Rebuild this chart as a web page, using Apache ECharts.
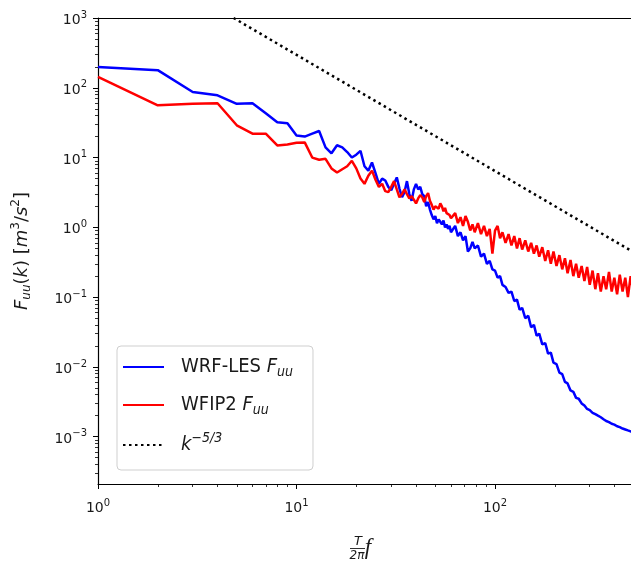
<!DOCTYPE html>
<html><head><meta charset="utf-8">
<script src="https://cdn.jsdelivr.net/npm/echarts@6/dist/echarts.min.js"></script>
<style>html,body{margin:0;padding:0;background:#fff}#c{width:631px;height:565px}</style>
</head><body><div id="c"></div>
<script>
// ---- data ----
const freqs = [1,2,3,4,5,6,7,8,9,10,11,12,13,14,15,16,17,18,19,20,21,22,23,24,25,26,27,28,29,30,
  31,32,33,34,35,36,37,38,39,40,41,42,43,44,45,46,47,48,49,50,51,52,53,54,55,56,57,58,59,60,
  61,63,65,67,69,71,73,75,77,79,82,85,88,91,94,97,100,103,106,109,113,117,121,125,129,133,137,142,147,152,
  157,162,167,173,179,185,191,197,204,211,218,225,232,240,248,256,264,273,282,291,300,310,320,330,341,352,363,375,387,399,
  412,425,439,453,467,482,497,512];
const wrfLes = [199,179,87,78,59,60,43,32,31,20.7, 20,22,24,14,11.5,15,14,12,10,11,
  12.5,7.5,6.5,8.5,6,4.2,5,4.7,3.8,3.4, 4.2,5.2,3.6,2.7,3.2,4.6,3.0,2.4,3.5,4.2,
  3.5,3.8,3.0,2.8,2.0,2.3,1.8,1.5,1.3,1.45, 1.15,1.3,1.2,1.1,1.25,1.0,1.1,0.95,1.05,0.85,
  0.9,1.05,0.75,0.85,0.65,0.75,0.45,0.5,0.62,0.5,
  0.55,0.38,0.42,0.3,0.33,0.25,0.24,0.19,0.2,0.15,
  0.14,0.115,0.12,0.088,0.092,0.066,0.07,0.05,0.054,0.037,
  0.04,0.028,0.03,0.021,0.022,0.0155,0.016,0.0115,0.011,0.0083,
  0.0079,0.0061,0.0058,0.0046,0.0044,0.0036,0.0035,0.0030,0.0028,0.0025,
  0.0024,0.0022,0.0021,0.0020,0.0019,0.00178,0.00168,0.00162,0.00153,0.00149,
  0.00141,0.00137,0.00131,0.00127,0.00123,0.00119,0.00116,0.00113];
const wfip2 = [143,56,59,60,29,22,22,14.9,15.4,16.3, 16.5,10,9.3,9.6,7,6.1,6.8,7.5,9,7,
  5,4.2,5.5,6.5,4.8,3.8,4.2,3.3,3.2,3.8, 4.6,3.5,2.7,3.0,3.5,3.0,2.6,2.8,2.5,2.2,
  2.6,2.9,2.7,2.3,2.8,3.1,2.4,2.1,1.8,2.0, 2.1,1.85,2.2,2.0,1.7,1.9,1.6,1.55,1.5,1.35,
  1.3,1.6,1.15,1.4,1.05,1.45,1.2,0.9,1.1,0.85,
  1.15,0.8,1.05,0.75,0.95,0.42,0.9,1.05,0.7,0.85,
  0.6,0.8,0.55,0.75,0.5,0.7,0.48,0.65,0.45,0.6,
  0.42,0.55,0.38,0.52,0.33,0.47,0.3,0.45,0.28,0.4,
  0.25,0.36,0.22,0.34,0.2,0.3,0.19,0.28,0.17,0.27,
  0.15,0.24,0.13,0.22,0.12,0.2,0.13,0.23,0.12,0.19,
  0.11,0.21,0.12,0.19,0.1,0.2,0.12,0.17];
const refLine = [[4.82,1000],[513,0.42]];
const xMajorTicks = [1,10,100];
const yMajorTicks = [0.001,0.01,0.1,1,10,100,1000];
const xMinorTicks = [2,3,4,5,6,7,8,9,20,30,40,50,60,70,80,90,200,300,400,500];
const yMinorTicks = [0.0003,0.0004,0.0005,0.0006,0.0007,0.0008,0.0009,
  0.002,0.003,0.004,0.005,0.006,0.007,0.008,0.009,
  0.02,0.03,0.04,0.05,0.06,0.07,0.08,0.09,
  0.2,0.3,0.4,0.5,0.6,0.7,0.8,0.9,
  2,3,4,5,6,7,8,9,20,30,40,50,60,70,80,90,
  200,300,400,500,600,700,800,900];
const legendNames = {
  'WRF-LES': '{g|}{n|WRF-LES }{i|F}{sb|uu}',
  'WFIP2': '{g|}{n|WFIP2 }{i|F}{sb|uu}',
  'k53': '{g|}{i|k}{sp|−5/3}'
};

// ---- chart ----
const TXT = '#1a1a1a';
const FONT = 'DejaVu Sans';
const tickRich = {
  b: {fontFamily: FONT, fontSize: 14, lineHeight: 16, padding: [5,0,0,0], color: TXT},
  s: {fontFamily: FONT, fontSize: 10, lineHeight: 10, padding: [0,0,6,0], color: TXT}
};
function powLabel(v) {
  const e = Math.round(Math.log10(v));
  return '{b|10}{s|' + (e < 0 ? '−' + (-e) : e) + '}';
}
const xMin = 1, xMax = 513, yMin = 0.00021, yMax = 1000;
const axisLine = {show: true, onZero: false, lineStyle: {color: '#000', width: 1.2}};

const chart = echarts.init(document.getElementById('c'), null, {renderer: 'canvas'});
chart.setOption({
  animation: false,
  backgroundColor: '#fff',
  grid: {left: 98, top: 18, right: -5, bottom: 81, containLabel: false, outerBoundsMode: 'none'},
  xAxis: [
    {type: 'log', logBase: 10, min: xMin, max: xMax, position: 'bottom',
     axisLine: axisLine,
     axisTick: {show: true, inside: false, length: 5, customValues: xMajorTicks, lineStyle: {color: '#000', width: 1}},
     axisLabel: {customValues: xMajorTicks, formatter: powLabel, rich: tickRich, margin: 14},
     splitLine: {show: false}, minorTick: {show: false}},
    {type: 'log', logBase: 10, min: xMin, max: xMax, position: 'bottom',
     axisLine: {show: false, onZero: false},
     axisTick: {show: true, inside: false, length: 3, customValues: xMinorTicks, lineStyle: {color: '#000', width: 0.8}},
     axisLabel: {show: false}, splitLine: {show: false}},
    {type: 'log', logBase: 10, min: xMin, max: xMax, position: 'top',
     axisLine: {show: true, onZero: false, lineStyle: {color: '#000', width: 1.2}},
     axisTick: {show: false}, axisLabel: {show: false}, splitLine: {show: false}}
  ],
  yAxis: [
    {type: 'log', logBase: 10, min: yMin, max: yMax, position: 'left',
     axisLine: axisLine,
     axisTick: {show: true, inside: false, length: 5, customValues: yMajorTicks, lineStyle: {color: '#000', width: 1}},
     axisLabel: {customValues: yMajorTicks, formatter: powLabel, rich: tickRich, margin: 11},
     splitLine: {show: false}, minorTick: {show: false},
     name: '{i|F}{sb|uu}{n|(}{i|k}{n|) [}{i|m}{sp|3}{n|/}{i|s}{sp|2}{n|]}',
     nameLocation: 'middle', nameGap: 64, nameRotate: 90,
     nameTextStyle: {color: TXT, rich: {
       n: {fontFamily: FONT, fontSize: 18, lineHeight: 24, color: TXT},
       i: {fontFamily: FONT, fontStyle: 'italic', fontSize: 18, lineHeight: 24, color: TXT},
       sb: {fontFamily: FONT, fontStyle: 'italic', fontSize: 12, lineHeight: 12, padding: [10,0,0,0], color: TXT},
       sp: {fontFamily: FONT, fontSize: 12, lineHeight: 12, padding: [0,0,12,0], color: TXT}
     }}},
    {type: 'log', logBase: 10, min: yMin, max: yMax, position: 'left',
     axisLine: {show: false, onZero: false},
     axisTick: {show: true, inside: false, length: 3, customValues: yMinorTicks, lineStyle: {color: '#000', width: 0.8}},
     axisLabel: {show: false}, splitLine: {show: false}}
  ],
  legend: {
    show: true, orient: 'vertical', left: 117, top: 346,
    padding: [9, 20, 11, 5], itemGap: 14, itemWidth: 41, itemHeight: 14,
    backgroundColor: 'rgba(255,255,255,0.85)', borderColor: '#cfcfcf', borderWidth: 1, borderRadius: 4,
    itemStyle: {color: 'rgba(0,0,0,0)', borderWidth: 0, opacity: 0},
    data: ['WRF-LES', 'WFIP2', 'k53'],
    formatter: name => legendNames[name],
    textStyle: {color: TXT, rich: {
      g: {width: 12},
      n: {fontFamily: 'DejaVu Sans Condensed', fontSize: 20, lineHeight: 26, color: TXT},
      i: {fontFamily: 'DejaVu Sans Condensed', fontStyle: 'italic', fontSize: 20, lineHeight: 26, color: TXT},
      sb: {fontFamily: 'DejaVu Sans Condensed', fontStyle: 'italic', fontSize: 14, lineHeight: 14, padding: [10,0,0,0], color: TXT},
      sp: {fontFamily: 'DejaVu Sans Condensed', fontStyle: 'italic', fontSize: 14, lineHeight: 12, padding: [0,0,14,0], color: TXT}
    }}
  },
  graphic: [
    {type: 'text', style: {text: 'T', x: 358, y: 542, font: 'italic 13px "DejaVu Sans"', fill: TXT, align: 'center', verticalAlign: 'middle'}},
    {type: 'line', shape: {x1: 350, y1: 548.5, x2: 365, y2: 548.5}, style: {stroke: TXT, lineWidth: 0.9}},
    {type: 'text', style: {text: '2π', x: 357, y: 556, font: 'italic 12px "DejaVu Sans"', fill: TXT, align: 'center', verticalAlign: 'middle'}},
    {type: 'text', style: {text: 'f', x: 368, y: 548, font: 'italic 23px "Liberation Serif"', fill: TXT, align: 'center', verticalAlign: 'middle'}}
  ],
  series: [
    {name: 'WRF-LES', type: 'line', symbol: 'none', clip: true,
     data: freqs.map((f, i) => [f, wrfLes[i]]),
     itemStyle: {color: '#0000ff'}, lineStyle: {color: '#0000ff', width: 2.5}},
    {name: 'WFIP2', type: 'line', symbol: 'none', clip: true,
     data: freqs.map((f, i) => [f, wfip2[i]]),
     itemStyle: {color: '#ff0000'}, lineStyle: {color: '#ff0000', width: 2.5}},
    {name: 'k53', type: 'line', symbol: 'none', clip: true,
     data: refLine,
     itemStyle: {color: '#000'}, lineStyle: {color: '#000', width: 2.5, type: [2.5, 3.5]}}
  ]
});
</script></body></html>
